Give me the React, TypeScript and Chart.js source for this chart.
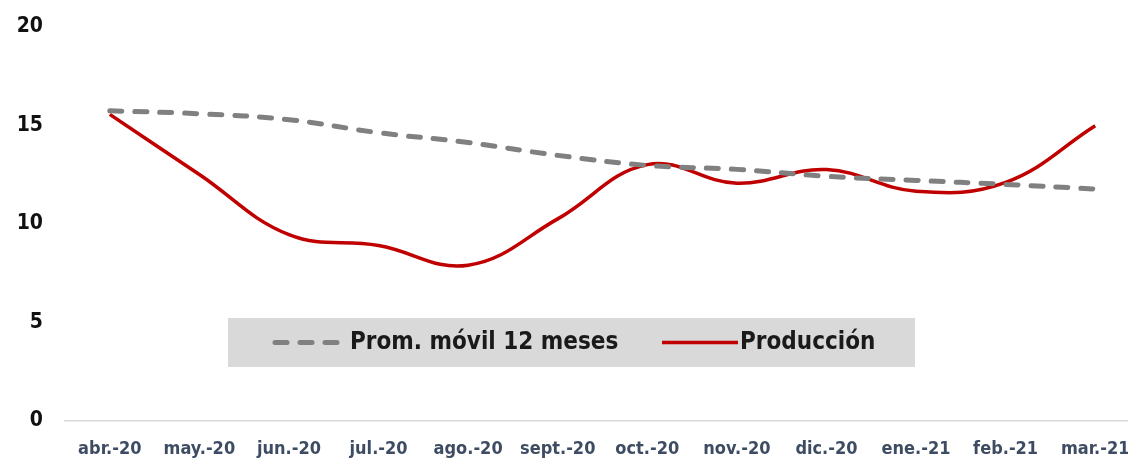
import React, { useEffect, useRef } from "react";
import { Chart, registerables } from "chart.js";

Chart.register(...registerables);

const categories = [
  "abr.-20", "may.-20", "jun.-20", "jul.-20", "ago.-20", "sept.-20",
  "oct.-20", "nov.-20", "dic.-20", "ene.-21", "feb.-21", "mar.-21",
];
const promMovil = [15.73, 15.58, 15.28, 14.62, 14.12, 13.47, 12.96, 12.76, 12.41, 12.2, 12.0, 11.76];
const produccion = [15.55, 12.5, 9.45, 8.9, 7.9, 10.25, 13.0, 12.06, 12.75, 11.65, 12.1, 14.97];
const yTicks = [0, 5, 10, 15, 20];

const legendLabels = ["Prom. móvil 12 meses", "Producción"];
const FONT = "'Liberation Sans Narrow', 'DejaVu Sans Condensed', 'Noto Sans', sans-serif";

const CANVAS_W = 1140;

const legendBoxPlugin = {
  id: "legendBox",
  afterDatasetsDraw(chart: any) {
    const ctx = chart.ctx;
    const x0 = 228;
    const y0 = 318;
    const w = 687;
    const h = 49;
    ctx.save();
    ctx.fillStyle = "#d9d9d9";
    ctx.fillRect(x0, y0, w, h);
    const cy = y0 + h / 2;
    ctx.strokeStyle = "#808080";
    ctx.lineWidth = 5;
    ctx.lineCap = "round";
    ctx.setLineDash([12, 13]);
    ctx.beginPath();
    ctx.moveTo(x0 + 47, cy);
    ctx.lineTo(x0 + 117, cy);
    ctx.stroke();
    ctx.setLineDash([]);
    ctx.font = "bold 24px " + FONT;
    ctx.fillStyle = "#1a1a1a";
    ctx.textBaseline = "middle";
    ctx.textAlign = "left";
    ctx.fillText(legendLabels[0], x0 + 122, cy);
    ctx.strokeStyle = "#c00000";
    ctx.lineWidth = 3.5;
    ctx.lineCap = "butt";
    ctx.beginPath();
    ctx.moveTo(x0 + 434, cy);
    ctx.lineTo(x0 + 510, cy);
    ctx.stroke();
    ctx.fillText(legendLabels[1], x0 + 512, cy);
    ctx.restore();
  },
};

export default function App() {
  const ref = useRef<HTMLCanvasElement>(null);
  useEffect(() => {
    const chart = new Chart(ref.current!, {
      type: "line",
      data: {
        labels: categories,
        datasets: [
          {
            label: legendLabels[0],
            data: promMovil,
            borderColor: "#808080",
            borderWidth: 5,
            borderDash: [12, 13],
            borderCapStyle: "round",
            pointRadius: 0,
            tension: 0.4,
            fill: false,
          },
          {
            label: legendLabels[1],
            data: produccion,
            borderColor: "#c00000",
            borderWidth: 3.5,
            pointRadius: 0,
            tension: 0.4,
            fill: false,
          },
        ],
      },
      options: {
        animation: false,
        responsive: false,
        maintainAspectRatio: false,
        layout: { padding: { top: 14, right: 0, left: 0, bottom: 0 } },
        plugins: {
          legend: { display: false },
          tooltip: { enabled: false },
        },
        scales: {
          x: {
            offset: true,
            grid: { display: false },
            border: { display: true, color: "#d9d9d9", width: 1.5 },
            ticks: {
              color: "#3e4c63",
              font: { family: FONT, size: 18, weight: "bold" },
              padding: 10,
              maxRotation: 0,
              autoSkip: false,
            },
            afterFit(scale: any) {
              scale.height = 42;
            },
          },
          y: {
            min: 0,
            max: 20,
            afterBuildTicks(scale: any) {
              scale.ticks = yTicks.map((v) => ({ value: v }));
            },
            grid: { display: false },
            border: { display: false },
            ticks: {
              color: "#111111",
              font: { family: FONT, size: 21, weight: "bold" },
              padding: 14,
            },
            afterFit(scale: any) {
              scale.width = 65;
            },
          },
        },
      },
      plugins: [legendBoxPlugin],
    });
    return () => chart.destroy();
  }, []);
  return (
    <div style={{ position: "fixed", left: 0, top: 0, width: 1128, height: 463, overflow: "hidden", background: "#fff" }}>
      <canvas ref={ref} width={CANVAS_W} height={463} style={{ width: CANVAS_W, height: 463, display: "block" }} />
    </div>
  );
}
